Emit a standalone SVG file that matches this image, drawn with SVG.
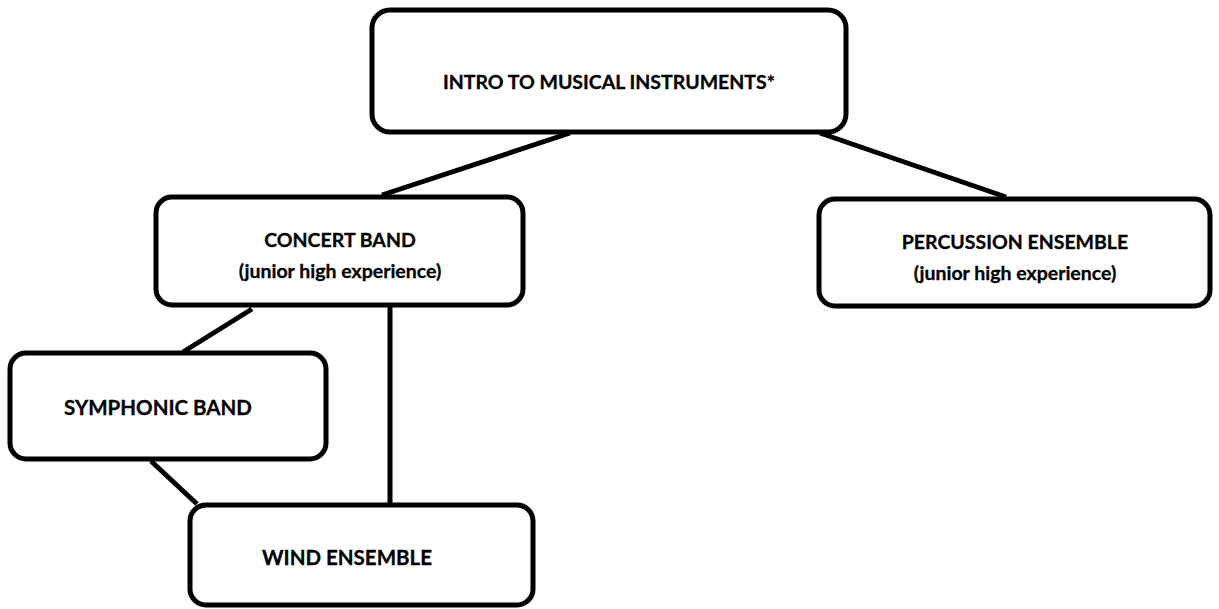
<svg xmlns="http://www.w3.org/2000/svg" width="1219" height="609" viewBox="0 0 1219 609">
  <style>
    .box { fill: #ffffff; stroke: #000000; stroke-width: 5; }
    .link { stroke: #000000; stroke-width: 5; fill: none; }
    .label { font-family: Lato, "Liberation Sans", sans-serif; font-weight: bold; font-size: 19.5px; fill: #000000; stroke: #000000; stroke-width: 0.3; text-anchor: middle; }
    .big { font-size: 20.5px; }
  </style>
  <rect width="1219" height="609" fill="#ffffff"/>

  <!-- connectors -->
  <g id="connectors">
    <line class="link" x1="570" y1="133" x2="382" y2="195"/>
    <line class="link" x1="820" y1="133" x2="1006" y2="197"/>
    <line class="link" x1="252" y1="309" x2="183" y2="352"/>
    <line class="link" x1="390" y1="307" x2="390" y2="505"/>
    <line class="link" x1="151" y1="461" x2="197" y2="504"/>
  </g>

  <g id="intro">
    <rect class="box" x="372" y="10" width="474" height="122" rx="18"/>
    <text class="label" x="609" y="89">INTRO TO MUSICAL INSTRUMENTS*</text>
  </g>

  <g id="concert-band">
    <rect class="box" x="156" y="197" width="367" height="108" rx="16"/>
    <text class="label" x="340" y="247">CONCERT BAND</text>
    <text class="label" x="340" y="278">(junior high experience)</text>
  </g>

  <g id="percussion-ensemble">
    <rect class="box" x="819" y="199" width="391" height="107" rx="16"/>
    <text class="label" x="1015" y="249">PERCUSSION ENSEMBLE</text>
    <text class="label" x="1015" y="280">(junior high experience)</text>
  </g>

  <g id="symphonic-band">
    <rect class="box" x="10" y="353" width="316" height="106" rx="16"/>
    <text class="label big" x="158" y="415">SYMPHONIC BAND</text>
  </g>

  <g id="wind-ensemble">
    <rect class="box" x="190" y="505" width="343" height="100" rx="16"/>
    <text class="label big" x="347" y="565">WIND ENSEMBLE</text>
  </g>
</svg>
